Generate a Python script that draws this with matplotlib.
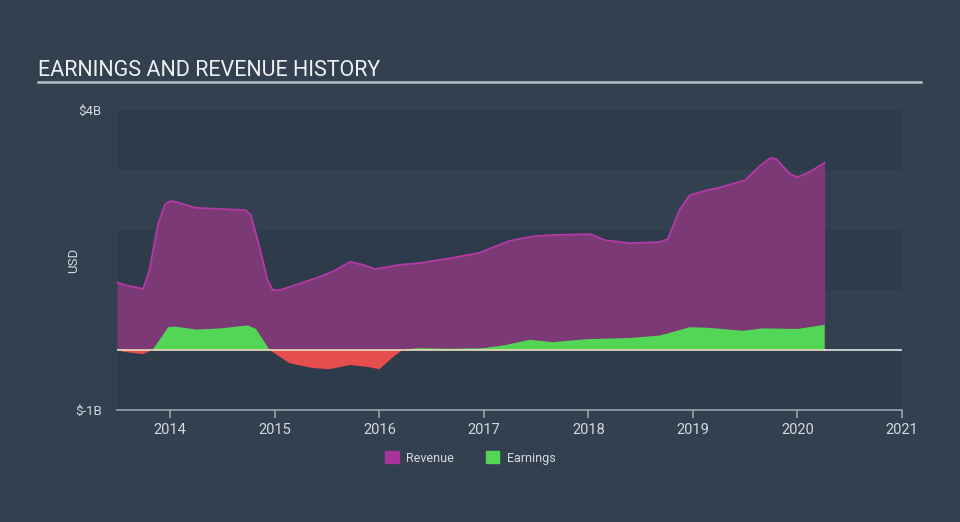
import matplotlib.pyplot as plt
from matplotlib.patches import Patch

plt.rcParams['font.family'] = ['Roboto', 'DejaVu Sans']

# revenue, USD billions (decimal years)
rev_x = [2013.49, 2013.57, 2013.74, 2013.8, 2013.88, 2013.95, 2014.0, 2014.05, 2014.24, 2014.48,
         2014.72, 2014.77, 2014.86, 2014.93, 2014.98, 2015.05, 2015.14, 2015.43, 2015.57, 2015.72,
         2015.82, 2015.96, 2016.2, 2016.39, 2016.68, 2016.96, 2017.1, 2017.25, 2017.49, 2017.73,
         2018.02, 2018.16, 2018.4, 2018.68, 2018.76, 2018.87, 2018.97, 2019.15, 2019.24, 2019.5,
         2019.64, 2019.74, 2019.8, 2019.93, 2020.0, 2020.12, 2020.26]
rev_y = [1.13, 1.08, 1.02, 1.33, 2.08, 2.43, 2.48, 2.47, 2.37, 2.35,
         2.33, 2.25, 1.67, 1.17, 1.0, 1.0, 1.05, 1.22, 1.32, 1.47,
         1.43, 1.35, 1.42, 1.45, 1.53, 1.62, 1.72, 1.82, 1.9, 1.92,
         1.93, 1.83, 1.78, 1.8, 1.85, 2.33, 2.58, 2.67, 2.7, 2.83,
         3.07, 3.2, 3.18, 2.93, 2.88, 2.97, 3.12]

# earnings, USD billions
earn_x = [2013.49, 2013.55, 2013.74, 2013.8, 2013.83, 2013.98, 2014.05, 2014.25, 2014.48, 2014.74,
          2014.82, 2014.95, 2015.14, 2015.36, 2015.52, 2015.72, 2015.88, 2016.0, 2016.13, 2016.22,
          2016.36, 2016.67, 2016.99, 2017.2, 2017.44, 2017.66, 2017.98, 2018.4, 2018.68, 2018.97,
          2019.15, 2019.34, 2019.48, 2019.67, 2020.0, 2020.26]
earn_y = [0.02, -0.03, -0.07, -0.02, 0.0, 0.38, 0.39, 0.34, 0.36, 0.41,
          0.35, 0.0, -0.22, -0.3, -0.32, -0.25, -0.28, -0.32, -0.12, 0.0,
          0.03, 0.02, 0.03, 0.08, 0.17, 0.13, 0.18, 0.2, 0.24, 0.38,
          0.37, 0.34, 0.32, 0.36, 0.35, 0.42]

years = [2014, 2015, 2016, 2017, 2018, 2019, 2020, 2021]

bg = '#334050'
band = '#2e3b4a'
txt = '#d5d9de'

fig = plt.figure(figsize=(9.6, 5.22), dpi=100, facecolor=bg)
ax = fig.add_axes([117/960, 1-410/522, 785/960, 300/522])
ax.set_facecolor(bg)
ax.set_xlim(2013.49, 2021.0)
ax.set_ylim(-1, 4)

for lo, hi in [(3, 4), (1, 2), (-1, 0)]:
    ax.axhspan(lo, hi, color=band, lw=0, zorder=0)

ax.fill_between(rev_x, 0, rev_y, color='#7b3a76', lw=0, zorder=2)
ax.plot(rev_x, rev_y, color='#b53aa6', lw=1.3, zorder=3)
ax.fill_between(earn_x, 0, earn_y, where=[v >= 0 for v in earn_y], interpolate=True,
                color='#53d656', lw=0, zorder=4)
ax.fill_between(earn_x, 0, earn_y, where=[v <= 0 for v in earn_y], interpolate=True,
                color='#e84e4e', lw=0, zorder=4)
ax.plot([rev_x[0], rev_x[-1]], [0, 0], color='#e9dcbc', lw=1.2, zorder=5)
ax.plot([rev_x[-1], 2021.0], [0, 0], color='#dfe2e6', lw=1.2, zorder=5)

for s in ['top', 'right', 'left']:
    ax.spines[s].set_visible(False)
ax.spines['bottom'].set_color('#9aa3ad')
ax.spines['bottom'].set_linewidth(1.2)

ax.set_xticks(years)
ax.set_xticklabels([str(y) for y in years], fontsize=10.5, color=txt)
ax.tick_params(axis='x', colors='#9aa3ad', labelcolor=txt, length=6, width=1.2, pad=3)
ax.set_yticks([-1, 4])
ax.set_yticklabels(['$-1B', '$4B'], fontsize=9.5, color=txt)
ax.tick_params(axis='y', length=0, pad=11)
ax.set_ylabel('USD', fontsize=9.5, color=txt)
ax.yaxis.set_label_coords(-37/785, 0.5)

fig.text(38/960, 1-76/522, 'EARNINGS AND REVENUE HISTORY', fontsize=15.5, color='#eef0f2',
         va='baseline')
fig.add_artist(plt.Line2D([38/960, 921/960], [1-82/522, 1-82/522], color='#b8bec5', lw=1.8))

handles = [Patch(color='#a8339d', label='Revenue'), Patch(color='#53d656', label='Earnings')]
fig.legend(handles=handles, loc='center', bbox_to_anchor=(0.49, 1-458/522), ncol=2,
           frameon=False, fontsize=9, labelcolor=txt, handlelength=1.1, handleheight=1.1,
           columnspacing=2.5, handletextpad=0.6)

fig.savefig('out.png', dpi=100, facecolor=bg)
